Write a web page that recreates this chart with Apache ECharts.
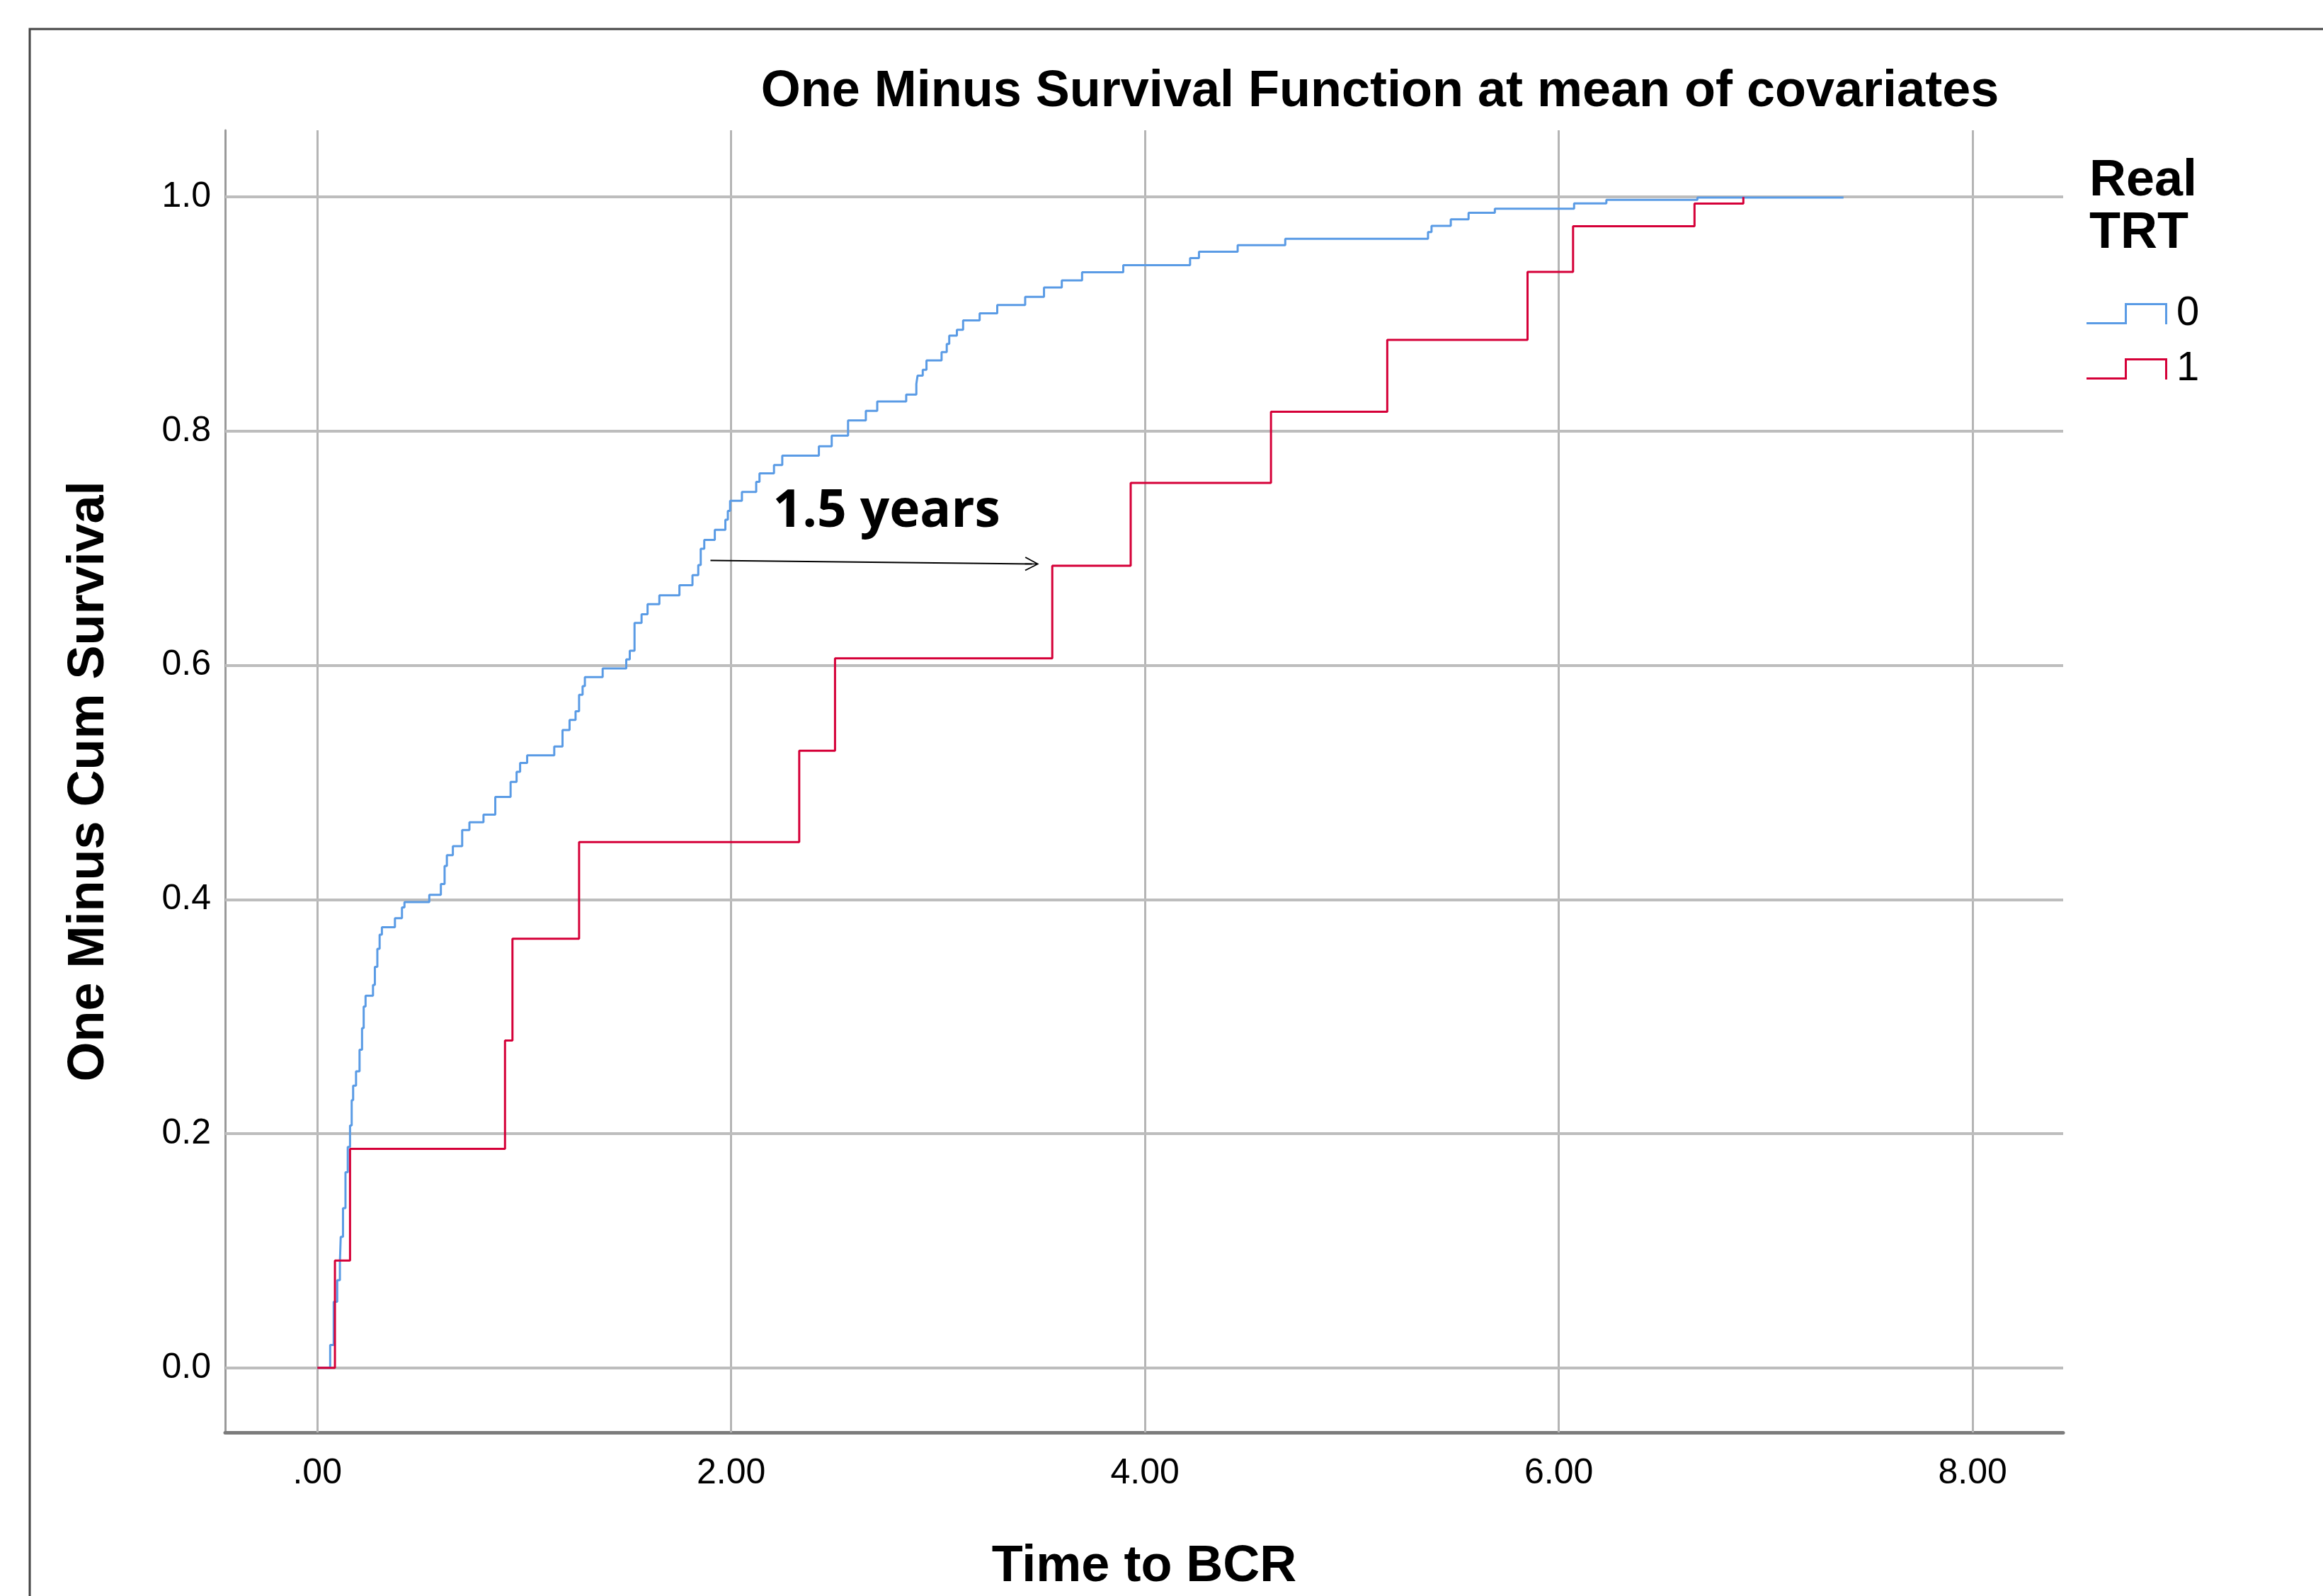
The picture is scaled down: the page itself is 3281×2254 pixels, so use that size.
<!DOCTYPE html>
<html>
<head>
<meta charset="utf-8">
<style>
html,body{margin:0;padding:0;background:#fff;}
#chart{width:3281px;height:2254px;}
</style>
<script src="https://cdn.jsdelivr.net/npm/echarts@6/dist/echarts.min.js"></script>
</head>
<body>
<div id="chart"></div>
<script>
// ---------- data ----------
const chartTitle = 'One Minus Survival Function at mean of covariates';
const xName = 'Time to BCR';
const yName = 'One Minus Cum Survival';
const legendTitle = 'Real\nTRT';
const groupNames = ['0', '1'];

const xTickValues = [0, 2, 4, 6, 8];
const xTickLabels = ['.00', '2.00', '4.00', '6.00', '8.00'];
const yTickValues = [0, 0.2, 0.4, 0.6, 0.8, 1.0];
const yTickLabels = ['0.0', '0.2', '0.4', '0.6', '0.8', '1.0'];

// TRT = 0 (blue)
const blueTime = [0, 0.062, 0.079, 0.096, 0.109, 0.113, 0.124, 0.136, 0.147, 0.158,
  0.166, 0.173, 0.187, 0.204, 0.216, 0.224, 0.233, 0.269, 0.278, 0.290,
  0.301, 0.312, 0.375, 0.409, 0.421, 0.541, 0.597, 0.615, 0.626, 0.655,
  0.700, 0.735, 0.803, 0.860, 0.934, 0.963, 0.980, 1.014, 1.145, 1.185,
  1.219, 1.248, 1.265, 1.282, 1.293, 1.379, 1.493, 1.510, 1.533, 1.567,
  1.596, 1.653, 1.750, 1.813, 1.841, 1.853, 1.870, 1.921, 1.972, 1.984,
  1.995, 2.052, 2.121, 2.137, 2.207, 2.247, 2.424, 2.486, 2.565, 2.651,
  2.706, 2.846, 2.895, 2.901, 2.926, 2.944, 3.017, 3.042, 3.054, 3.091,
  3.121, 3.201, 3.286, 3.421, 3.512, 3.598, 3.696, 3.895, 4.218, 4.261,
  4.448, 4.678, 5.368, 5.385, 5.478, 5.564, 5.691, 6.074, 6.230, 6.670,
  7.376];
const blueValues = [0, 0.0195, 0.0564, 0.0749, 0.090, 0.1118, 0.1364, 0.1671, 0.1887, 0.207,
  0.2286, 0.241, 0.2533, 0.2717, 0.2902, 0.3086, 0.3178, 0.327, 0.3424, 0.3578,
  0.370, 0.3763, 0.384, 0.3932, 0.3978, 0.404, 0.4132, 0.4286, 0.4378, 0.4455,
  0.4593, 0.466, 0.4725, 0.4876, 0.5005, 0.5091, 0.5166, 0.5231, 0.5307, 0.5447,
  0.5533, 0.5608, 0.5748, 0.5823, 0.5899, 0.5974, 0.605, 0.6125, 0.6362, 0.6437,
  0.6523, 0.6598, 0.6684, 0.677, 0.6856, 0.6996, 0.7072, 0.7158, 0.7244, 0.7319,
  0.7405, 0.7481, 0.7567, 0.764, 0.7711, 0.7791, 0.7871, 0.7962, 0.8092, 0.8173,
  0.8253, 0.8313, 0.8404, 0.8474, 0.8524, 0.8605, 0.8675, 0.8745, 0.8816, 0.8866,
  0.8946, 0.9007, 0.9077, 0.9147, 0.9228, 0.9288, 0.9358, 0.9418, 0.9478, 0.9533,
  0.9589, 0.9643, 0.970, 0.9754, 0.981, 0.9866, 0.990, 0.9946, 0.9976, 0.9995,
  0.9995];

// TRT = 1 (red)
const redTime = [0, 0.085, 0.158, 0.907, 0.943, 1.265, 2.329, 2.502, 3.552, 3.931,
  4.609, 5.171, 5.849, 6.069, 6.656, 6.892];
const redValues = [0, 0.0916, 0.187, 0.2795, 0.3665, 0.449, 0.527, 0.606, 0.685, 0.7558,
  0.8166, 0.878, 0.936, 0.975, 0.9944, 1.0];

// annotation (data units)
const annotText = '1.5 years';
const annotTextPos = [2.751, 0.731];
const arrowFrom = [1.900, 0.6896];
const arrowTo = [3.454, 0.6866];

// axis extents
const xMin = -0.4456, xMax = 8.4377;
const yMin = -0.0552, yMax = 1.0570;

// ---------- build ----------
const zip = (a, b) => a.map((v, i) => [v, b[i]]);
const FONT = 'Liberation Sans, Arial, sans-serif';
const BLUE = '#5a9be5';
const RED = '#d50038';
const stepIcon = 'path://M0,27 L54,27 L54,0 L114,0 L114,30 L111,30 L111,3 L57,3 L57,30 L0,30 Z';
const arrowHead = 'path://M10,0 L20,19 L18.5,20 L10,3.5 L1.5,20 L0,19 Z M9.2,1 L10.8,1 L10.8,20 L9.2,20 Z';

const chart = echarts.init(document.getElementById('chart'), null, {renderer: 'canvas'});

const option = {
  backgroundColor: '#ffffff',
  animation: false,
  title: [
    {
      text: chartTitle,
      left: 1949, top: 94, textAlign: 'center', padding: 0,
      textStyle: {fontFamily: FONT, fontSize: 72, fontWeight: 'bold', color: '#000'}
    },
    {
      text: legendTitle,
      left: 2951, top: 219, padding: 0,
      textStyle: {fontFamily: FONT, fontSize: 72, fontWeight: 'bold', color: '#000', lineHeight: 74}
    }
  ],
  graphic: [
    {
      type: 'rect', silent: true, z: -10,
      shape: {x: 42, y: 41, width: 3400, height: 2400},
      style: {fill: 'none', stroke: '#444', lineWidth: 3}
    }
  ],
  legend: {
    data: groupNames,
    orient: 'vertical',
    left: 2947, top: 413,
    padding: 0,
    itemWidth: 114, itemHeight: 30, itemGap: 18,
    icon: stepIcon,
    itemStyle: {borderWidth: 0},
    textStyle: {fontFamily: FONT, fontSize: 58, lineHeight: 60, color: '#000', padding: [0, 0, 0, 8]}
  },
  grid: {left: 318, top: 184, right: 367, bottom: 225, containLabel: false},
  xAxis: {
    type: 'value', min: xMin, max: xMax,
    name: xName, nameLocation: 'middle', nameGap: 154,
    nameTextStyle: {fontFamily: FONT, fontSize: 72, fontWeight: 'bold', color: '#000'},
    axisLine: {show: true, onZero: false, lineStyle: {color: '#7c7c7c', width: 5}},
    axisTick: {show: false, customValues: xTickValues},
    splitLine: {show: false},
    axisLabel: {
      customValues: xTickValues, margin: 33,
      fontFamily: FONT, fontSize: 50, color: '#000',
      formatter: v => xTickLabels[xTickValues.indexOf(v)]
    }
  },
  yAxis: {
    type: 'value', min: yMin, max: yMax,
    name: yName, nameLocation: 'middle', nameGap: 156, nameRotate: 90,
    nameTextStyle: {fontFamily: FONT, fontSize: 72, fontWeight: 'bold', color: '#000'},
    axisLine: {show: true, onZero: false, lineStyle: {color: '#9a9a9a', width: 3}},
    axisTick: {show: false, customValues: yTickValues},
    splitLine: {show: false},
    axisLabel: {
      customValues: yTickValues, margin: 20,
      fontFamily: FONT, fontSize: 50, color: '#000',
      formatter: v => yTickLabels[yTickValues.indexOf(v)]
    }
  },
  series: [
    {
      name: 'grid', type: 'line', data: [], z: 1, silent: true,
      markLine: {
        z: 1,
        silent: true, symbol: ['none', 'none'], animation: false,
        label: {show: false},
        data: [
          ...xTickValues.map(v => ({xAxis: v, lineStyle: {color: '#b5b5b5', width: 3, type: 'solid'}})),
          ...yTickValues.map(v => ({yAxis: v, lineStyle: {color: '#bdbdbd', width: 4, type: 'solid'}}))
        ]
      }
    },
    {
      name: groupNames[0], type: 'line', step: 'end', z: 3,
      showSymbol: false, symbol: 'none',
      color: BLUE,
      lineStyle: {color: BLUE, width: 3},
      data: zip(blueTime, blueValues)
    },
    {
      name: groupNames[1], type: 'line', step: 'end', z: 4,
      showSymbol: false, symbol: 'none',
      color: RED,
      lineStyle: {color: RED, width: 3},
      data: zip(redTime, redValues)
    },
    {
      name: 'annotation', type: 'line', data: [], z: 6, silent: true,
      markLine: {
        silent: true, animation: false,
        symbol: ['none', arrowHead], symbolSize: [20, 20],
        label: {show: false},
        lineStyle: {color: '#000', width: 2, type: 'solid'},
        data: [[{coord: arrowFrom}, {coord: arrowTo}]]
      },
      markPoint: {
        silent: true, animation: false,
        symbol: 'rect', symbolSize: 1,
        itemStyle: {color: 'rgba(0,0,0,0)'},
        label: {
          show: true, position: 'inside', formatter: annotText,
          fontFamily: 'Open Sans, Noto Sans, sans-serif', fontWeight: 'bold', fontSize: 73, color: '#000'
        },
        data: [{coord: annotTextPos}]
      }
    }
  ]
};
chart.setOption(option);
</script>
</body>
</html>
